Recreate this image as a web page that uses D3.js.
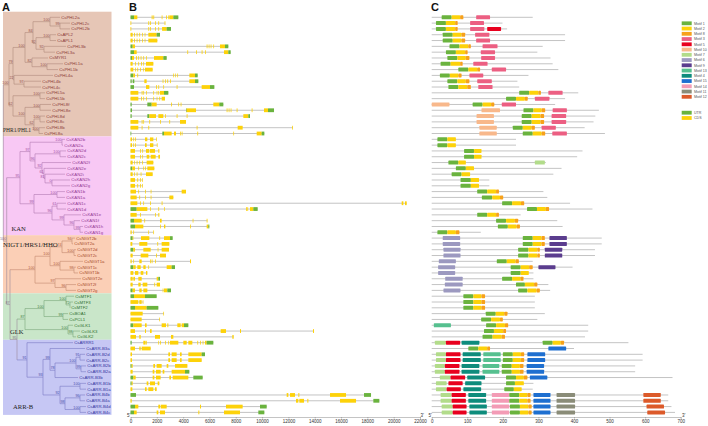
<!DOCTYPE html>
<html><head><meta charset="utf-8">
<script src="https://cdn.jsdelivr.net/npm/d3@7"></script>
<style>body{margin:0;background:#fff}svg{display:block}text{font-family:Arial,"Liberation Sans",sans-serif}</style>
</head><body><svg id="c" width="708" height="426"></svg>
<script>
// ---------- DATA ----------
const genes = ["CsPHL2a","CsPHL2c","CsPHL2b","CsAPL2","CsAPL1","CsPHL3b","CsPHL3a","CsMYR1","CsPHL1a","CsPHL1b","CsPHL4a","CsPHL4b","CsPHL4c","CsPHL5a","CsPHL5b","CsPHL8f","CsPHL8e","CsPHL8d","CsPHL8c","CsPHL8b","CsPHL8a",
"CsKAN2b","CsKAN2a","CsKAN2d","CsKAN2c","CsKAN2f","CsKAN2e","CsKAN2i","CsKAN2h","CsKAN2g","CsKAN1b","CsKAN1a","CsKAN1c","CsKAN1d","CsKAN1e","CsKAN1f","CsKAN1h","CsKAN1g",
"CsNIGT2b","CsNIGT2a","CsNIGT2d","CsNIGT2c","CsNIGT1a","CsNIGT1c","CsNIGT1b","CsNIGT2e","CsNIGT2f","CsNIGT2g",
"CsMTF1","CsMTF3","CsMTF2","CsBOA1","CsPCL1","CsGLK1","CsGLK3","CsGLK2",
"CsARRR1","CsARR-B3a","CsARR-B2d","CsARR-B2c","CsARR-B2b","CsARR-B2a","CsARR-B3b","CsARR-B1b","CsARR-B1a","CsARR-B4b","CsARR-B4a","CsARR-B4d","CsARR-B4c"];
const groupNames = ["PHR1/PHL1","KAN","NIGT1/HRS1/HHO","GLK","ARR-B"];
const groupSizes = [21,17,10,8,13];
const groupBg = ["#e6c6b6","#f8c8f4","#fbcfb6","#c9e6c9","#c6c7f4"];
const groupLine = ["#b08a7c","#b27ab2","#c48a70","#7aa87a","#7a7ac4"];
const groupText = ["#8b3a3a","#953a95","#a8482a","#2e6e2e","#3535a0"];

const newickPHR = "(((((CsPHL2a:10,(CsPHL2c:10,CsPHL2b:10)99:10)100:17,((CsAPL2:6,CsAPL1:6)100:14,(CsPHL3b:22,CsPHL3a:11)92:8)92:3)84:8,(CsMYR1:16,(CsPHL1a:16,CsPHL1b:11)100:15)82:7)100:12,(CsPHL4a:39,(CsPHL4b:17,CsPHL4c:17)97:10)22:1)79:4,((CsPHL5a:5,CsPHL5b:5)100:27,((CsPHL8f:11,CsPHL8e:11)100:15,((CsPHL8d:5,CsPHL8c:5)100:6,(CsPHL8b:6,CsPHL8a:4)100:5)62:9)100:12)62:4)100:5.7";
const newickKAN = "(((CsKAN2b:3,CsKAN2a:1)100:32,((CsKAN2d:6,CsKAN2c:6)100:25,(CsKAN2f:29,(CsKAN2e:22,(CsKAN2i:20,(CsKAN2h:18,CsKAN2g:18)0:7)81:1)61:2)92:7)96:5)97:10,((CsKAN1b:8,CsKAN1a:8)100:23,((CsKAN1c:9,CsKAN1d:9)61:5,(CsKAN1e:17,(CsKAN1f:6,(CsKAN1h:3,CsKAN1g:3)99:6)96:10)99:12)96:18)99:14)95:13.3";
const newickNIGT = "((((CsNIGT2b:3,CsNIGT2a:1)94:10,(CsNIGT2d:2,CsNIGT2c:2)100:12)74:12,(CsNIGT1a:23,(CsNIGT1c:2,CsNIGT1b:4)98:14)100:10)100:15,(CsNIGT2e:26,(CsNIGT2f:10,CsNIGT2g:10)96:11)97:20)100:25";
const newickGLK = "(((CsMTF1:8,(CsMTF3:3,CsMTF2:0)72:4)100:22,(CsBOA1:5,CsPCL1:5)99:19)100:19,(CsGLK1:5,(CsGLK3:7,CsGLK2:3)98:5)100:43)87:8";
const newickARR = "(CsARRR1:46,((CsARR-B3a:35,(((CsARR-B2d:5,CsARR-B2c:5)91:4,(CsARR-B2b:5,CsARR-B2a:5)99:5)100:21,CsARR-B3b:23)78:5)99:7,((CsARR-B1b:6,CsARR-B1a:6)100:20,((CsARR-B4b:5,CsARR-B4a:5)96:15,(CsARR-B4d:6,CsARR-B4c:6)100:15)98:5)92:17)93:16)91:10";
const newick = "(" + newickPHR + ",(" + newickKAN + ",(" + newickNIGT + ",(" + newickGLK + "," + newickARR + ")95:7)87:3.3)100:3.4);";

// gene structures: [start, end, type] U = UTR, C = CDS (bp)
const geneStruct = [
[[0,270,'U'],[270,520,'C'],[1608,1680,'C'],[1735,1800,'C'],[2368,2430,'C'],[2698,2760,'C'],[2875,2940,'C'],[2951,3255,'C'],[3255,3635,'U']],
[[0,60,'C'],[1355,1420,'C'],[1482,1540,'C'],[1862,1920,'C'],[2115,2175,'C'],[2590,2650,'C']],
[[0,60,'C'],[1355,1420,'C'],[1482,1540,'C'],[1862,1920,'C'],[2115,2175,'C'],[2400,2750,'C'],[2750,3078,'U']],
[[0,165,'C'],[266,330,'C'],[469,530,'C'],[671,730,'C'],[874,930,'C'],[1076,1130,'C'],[1355,1988,'C'],[1988,2242,'U']],
[[0,165,'C'],[266,330,'C'],[469,530,'C'],[671,730,'C'],[874,930,'C'],[1076,1130,'C'],[1355,2039,'C']],
[[0,165,'U'],[165,342,'C'],[5788,5850,'C'],[5940,6000,'C'],[6092,6150,'C'],[6295,6350,'C'],[6801,7181,'C'],[7181,7435,'U']],
[[0,266,'U'],[266,469,'C'],[4320,4380,'C'],[4978,5040,'C'],[5408,5470,'C'],[5661,5720,'C'],[7105,7435,'C'],[7435,7612,'U']],
[[0,114,'U'],[114,266,'C'],[418,480,'C'],[595,650,'C'],[773,830,'C'],[975,1030,'C'],[1178,1230,'C'],[1786,2495,'C'],[2495,2749,'U']],
[[0,165,'C'],[342,400,'C'],[595,650,'C'],[798,860,'C'],[975,1030,'C'],[1178,1735,'C']],
[[0,215,'C'],[342,400,'C'],[519,580,'C'],[722,780,'C'],[975,1030,'C'],[1102,1684,'C']],
[[0,215,'U'],[215,342,'C'],[519,580,'C'],[3255,3310,'C'],[3407,3460,'C'],[3559,3610,'C'],[4471,4902,'C'],[4902,5105,'U']],
[[0,89,'U'],[165,290,'U'],[1051,1228,'C'],[2444,2500,'C'],[2622,2680,'C'],[2799,2860,'C'],[3002,3060,'C'],[4471,4902,'C'],[4902,5155,'U']],
[[0,266,'U'],[1178,1431,'C'],[1938,2000,'C'],[2115,2175,'C'],[2495,2550,'C'],[3508,3570,'C'],[5408,6041,'C'],[6041,6371,'U']],
[[0,595,'C'],[849,910,'C'],[975,1030,'C'],[1178,1230,'C'],[1735,1790,'C'],[1988,2040,'C'],[2115,2175,'C'],[2242,2546,'C'],[2546,2875,'U']],
[[0,595,'C'],[798,860,'C'],[975,1030,'C'],[1178,1230,'C'],[1735,1790,'C'],[1988,2040,'C'],[2191,2250,'C'],[2368,2622,'C']],
[[0,89,'U'],[1279,1608,'U'],[1608,1988,'C'],[3078,3140,'C'],[3635,3690,'C'],[3812,3870,'C'],[6295,6751,'C'],[6751,7055,'U']],
[[0,114,'U'],[4218,4269,'U'],[4269,4978,'C'],[7308,7370,'C'],[7460,7520,'C'],[7612,7670,'C'],[8068,8130,'C'],[9208,9270,'C'],[10146,10450,'C'],[10450,10906,'U']],
[[0,89,'U'],[1279,1431,'U'],[1431,1938,'C'],[2115,2495,'C'],[2622,2680,'C'],[3508,3570,'C'],[4269,4330,'C'],[8575,8955,'C'],[8955,9081,'U']],
[[0,595,'C'],[849,910,'C'],[975,1030,'C'],[1431,1490,'C'],[2242,2300,'C'],[2951,3010,'C'],[3762,4218,'C']],
[[0,595,'C'],[849,910,'C'],[1355,1420,'C'],[5029,5090,'C'],[8144,8524,'C'],[12290,12350,'C']],
[[0,60,'U'],[2419,2546,'U'],[2546,3128,'C'],[3306,3458,'C'],[3762,3820,'C'],[3888,3950,'C'],[5079,5140,'C'],[7815,7870,'C'],[9589,9969,'C'],[9969,10171,'U']],
[[0,114,'C'],[215,270,'C'],[342,400,'C'],[1102,1279,'C'],[1482,1735,'C'],[1950,1988,'C']],
[[0,114,'C'],[215,270,'C'],[342,400,'C'],[1102,1228,'C'],[1482,1735,'C'],[2000,2039,'C']],
[[0,342,'C'],[722,780,'C'],[899,950,'C'],[1178,1431,'C'],[1482,1862,'C'],[2115,2191,'C']],
[[0,342,'C'],[722,780,'C'],[899,950,'C'],[1228,1431,'C'],[1533,1912,'C'],[2115,2242,'C']],
[[0,165,'C'],[266,320,'C'],[469,530,'C'],[671,730,'C'],[874,930,'C'],[1228,1735,'C']],
[[0,139,'U'],[139,342,'C'],[595,650,'C'],[975,1030,'C'],[1102,1160,'C'],[1279,1811,'C']],
[[0,165,'C'],[266,320,'C'],[469,530,'C'],[773,830,'C'],[1178,1684,'C']],
[[0,342,'C'],[519,580,'C'],[722,780,'C'],[874,925,'C']],
[[0,342,'C'],[519,580,'C'],[722,780,'C'],[874,925,'C']],
[[0,418,'C'],[595,650,'C'],[1102,1160,'C'],[1533,1590,'C'],[3888,4218,'C']],
[[0,469,'C'],[671,730,'C'],[1102,1160,'C'],[1533,1590,'C'],[2951,3255,'C']],
[[0,519,'C'],[722,780,'C'],[975,1030,'C'],[1482,1540,'C'],[2368,2430,'C'],[20608,20735,'C'],[20862,20989,'C']],
[[0,469,'U'],[469,1279,'C'],[1482,1540,'C'],[2115,2175,'C'],[2546,2600,'C'],[8778,8840,'C'],[8879,8940,'C'],[9081,9335,'C'],[9335,9664,'U']],
[[0,469,'C'],[722,780,'C'],[1862,1920,'C'],[2115,2191,'C']],
[[0,266,'U'],[266,849,'C'],[1051,1110,'C'],[2242,2368,'C'],[4725,4780,'C'],[5788,5850,'C']],
[[0,342,'U'],[342,975,'C'],[2242,2300,'C'],[2546,2647,'C'],[4522,4580,'C'],[5788,5915,'C'],[5915,5991,'U']],
[[0,89,'C'],[215,270,'C'],[1355,1410,'C'],[1735,1760,'C']],
[[0,165,'U'],[165,215,'C'],[798,1431,'C'],[2191,2250,'C'],[2546,3002,'C'],[3002,3204,'U']],
[[0,139,'C'],[671,1279,'C'],[2039,2100,'C'],[2368,2951,'C']],
[[0,215,'U'],[215,342,'C'],[975,1533,'C'],[2064,2120,'C'],[2368,2926,'C']],
[[0,165,'C'],[773,1355,'C'],[1938,2000,'C'],[2242,2698,'C']],
[[0,89,'C'],[215,270,'C'],[671,849,'C'],[1482,1540,'C'],[1608,1670,'C'],[1862,1920,'C'],[4522,4598,'C']],
[[0,215,'U'],[215,393,'C'],[519,773,'C'],[975,1152,'C'],[1355,1410,'C'],[2749,3128,'C'],[3128,3382,'U']],
[[0,215,'C'],[342,595,'C'],[773,975,'C'],[1178,1279,'C']],
[[0,165,'C'],[215,342,'C'],[595,849,'C'],[1988,2115,'C'],[2115,2242,'U']],
[[0,165,'C'],[595,773,'C'],[925,1279,'C'],[1811,1870,'C'],[1988,2242,'C']],
[[0,165,'U'],[165,342,'C'],[671,849,'C'],[975,1279,'C'],[2444,2500,'C'],[2546,2799,'C'],[2799,3078,'U']],
[[0,266,'U'],[266,1102,'C'],[1102,1988,'U']],
[[0,595,'C'],[671,849,'C'],[925,975,'C']],
[[0,342,'U'],[342,1228,'C'],[1228,2115,'U']],
[[0,925,'C'],[2495,2546,'C']],
[[0,849,'C'],[2191,2242,'C']],
[[0,215,'U'],[215,849,'C'],[1102,1228,'C'],[2368,2698,'C'],[2799,2875,'C'],[3559,3812,'C'],[3888,4066,'C'],[4066,4395,'U']],
[[0,342,'C'],[1102,1178,'C'],[1482,1608,'C'],[6852,7257,'C'],[8321,8397,'C'],[13870,13946,'C']],
[[0,418,'C'],[671,773,'C'],[1862,2242,'C'],[3078,3255,'C'],[7739,7840,'C']],
[[0,89,'U'],[975,1152,'C'],[1178,1230,'C'],[2115,2170,'C'],[2242,2300,'C'],[2622,2680,'C'],[2875,2930,'C'],[3002,3635,'C'],[4015,4269,'C'],[4395,4699,'C'],[5079,5140,'C'],[5282,5340,'C'],[5484,5540,'C'],[5661,5788,'C'],[5788,6295,'U']],
[[0,342,'C'],[671,773,'C'],[849,1533,'C']],
[[0,114,'C'],[2875,3002,'C'],[3128,3508,'C'],[3762,3888,'C'],[4395,5408,'C'],[5408,5661,'U']],
[[0,114,'C'],[2875,3002,'C'],[3128,3508,'C'],[3762,3888,'C'],[4395,5408,'C']],
[[0,89,'U'],[89,165,'C'],[1735,1862,'C'],[1988,2368,'C'],[2749,2875,'C'],[3382,4320,'C']],
[[0,165,'C'],[1684,1811,'C'],[1938,2292,'C'],[2444,2571,'C'],[3128,4142,'C'],[4142,4471,'U']],
[[0,215,'U'],[215,393,'C'],[1684,1811,'C'],[1938,2292,'C'],[2951,3078,'C'],[3204,4395,'C'],[4775,5484,'U']],
[[0,89,'U'],[89,165,'C'],[1228,1355,'C'],[1482,1862,'C'],[2064,2191,'C']],
[[0,139,'C'],[1102,1228,'C'],[1355,1735,'C'],[1862,1988,'C']],
[[0,418,'U'],[11868,11995,'C'],[12122,12502,'C'],[12755,12831,'C'],[15162,16378,'C'],[17746,18278,'U']],
[[0,89,'C'],[12578,12755,'C'],[12831,13186,'C'],[13439,13515,'C'],[15922,17138,'C'],[18455,18911,'U']],
[[0,342,'U'],[342,595,'C'],[2115,2242,'C'],[2292,2749,'C'],[5282,5358,'C'],[7257,8524,'C'],[9842,10349,'U']],
[[0,266,'U'],[266,469,'C'],[1988,2115,'C'],[2242,2622,'C'],[5155,5231,'C'],[7105,8321,'C'],[9715,10171,'U']]
];

// protein lengths (aa) and motifs [motif, start, end]
const protLen = [284,199,212,375,375,312,297,334,340,356,272,241,246,412,375,347,470,460,455,430,487,
237,237,424,409,321,365,342,162,162,314,325,389,452,250,353,368,138,
478,478,459,459,284,396,286,286,328,333,
290,290,290,318,297,440,440,431,
553,400,593,593,572,572,677,286,284,665,665,674,684];
const motifs = [
[[1,28,56],[2,56,80],[8,80,89],[3,125,164]],
[[1,12,40],[2,40,66],[8,66,73],[3,108,147]],
[[1,12,40],[2,40,66],[8,66,73],[3,108,148],[5,156,195]],
[[1,31,59],[2,59,84],[8,84,94],[3,122,162]],
[[1,31,59],[2,59,84],[8,84,94],[3,125,164]],
[[1,50,78],[2,78,103],[8,103,110],[3,143,185]],
[[1,40,68],[2,68,94],[8,94,101],[3,138,178]],
[[1,44,72],[2,72,96],[8,96,106],[3,139,178]],
[[1,25,53],[2,53,80],[8,80,87],[3,117,157]],
[[1,75,103],[2,103,128],[8,128,136],[3,169,209]],
[[1,23,51],[2,51,75],[8,75,84],[3,106,145]],
[[1,44,72],[2,72,96],[8,96,106],[3,128,169]],
[[1,47,75],[2,75,100],[8,100,110],[3,131,171]],
[[1,246,274],[2,274,300],[8,300,307],[3,328,368]],
[[1,209,237],[2,237,262],[8,262,270],[3,290,331]],
[[10,0,50],[1,115,143],[2,143,167],[8,167,176],[3,197,237]],
[[10,140,192],[1,258,286],[2,286,309],[8,309,319],[3,340,380]],
[[10,126,175],[1,253,281],[2,281,306],[8,306,316],[3,337,378]],
[[10,126,175],[1,253,281],[2,281,306],[8,306,316],[3,337,378]],
[[10,134,183],[1,228,256],[2,256,281],[8,281,290],[3,309,349]],
[[10,134,183],[1,256,284],[2,284,309],[8,309,319],[3,339,380]],
[[1,16,44],[2,44,68]],
[[1,16,44],[2,44,68]],
[[1,91,119],[2,119,140]],
[[1,91,119],[2,119,140]],
[[1,47,75],[2,75,96],[7,290,318]],
[[1,68,96],[2,96,119]],
[[1,56,84],[2,84,108]],
[[1,81,110],[2,110,133]],
[[1,81,110],[2,110,133]],
[[1,128,156],[2,156,181],[8,181,189]],
[[1,141,170],[2,170,192],[8,192,201]],
[[1,198,226],[2,226,251],[8,251,260]],
[[1,268,296],[2,296,321],[8,321,330]],
[[1,128,156],[2,156,181],[8,181,189]],
[[1,181,209],[2,209,234],[8,234,243]],
[[1,186,214],[2,214,239],[8,239,248]],
[[1,16,44],[2,44,68],[8,68,78]],
[[6,31,80],[1,256,284],[2,284,309],[8,309,318],[9,331,380]],
[[6,31,80],[1,256,284],[2,284,309],[8,309,318],[9,331,380]],
[[6,33,81],[1,243,272],[2,272,297],[8,297,304],[9,318,367]],
[[6,33,81],[1,243,272],[2,272,297],[8,297,304],[9,318,367]],
[[6,20,68],[1,183,211],[2,211,236],[8,236,245]],
[[6,18,66],[1,222,250],[2,250,274],[8,274,284],[9,300,348]],
[[6,18,66],[1,222,250],[2,250,273]],
[[6,38,87],[1,198,226],[2,226,250],[8,250,258]],
[[6,37,87],[1,237,262],[2,262,288],[8,288,297]],
[[6,33,81],[1,243,269],[2,269,295],[8,295,304]],
[[1,89,117],[2,117,140],[8,140,150]],
[[1,89,117],[2,117,140],[8,140,150]],
[[1,89,117],[2,117,140],[8,140,150]],
[[1,152,180],[2,180,204],[8,204,213]],
[[1,139,167],[2,167,192],[8,192,200]],
[[13,6,54],[1,153,181],[2,181,206],[8,206,215]],
[[1,147,175],[2,175,201],[8,201,209]],
[[1,143,171],[2,171,197],[8,197,206]],
[[7,9,40],[5,40,80],[4,84,134],[1,312,340],[2,340,363],[8,363,372]],
[[1,103,131],[2,131,156],[8,156,164],[15,328,378]],
[[7,12,40],[5,40,81],[4,87,138],[13,145,194],[1,200,228],[2,228,251],[8,251,260],[15,269,319]],
[[7,12,40],[5,40,81],[4,87,138],[13,145,194],[1,200,228],[2,228,251],[8,251,260],[15,269,319]],
[[7,9,37],[5,37,78],[4,84,134],[13,143,190],[1,197,225],[2,225,248],[8,248,258],[15,267,316]],
[[7,9,37],[5,37,78],[4,84,134],[13,143,190],[1,197,225],[2,225,248],[8,248,258],[15,267,316]],
[[7,23,53],[5,53,94],[4,100,150],[1,209,237],[2,237,259],[8,259,269],[15,276,325]],
[[7,12,42],[5,47,87],[4,94,140],[1,209,234],[2,234,259]],
[[7,12,42],[5,42,82],[4,89,139],[1,204,231],[2,231,253]],
[[7,25,56],[5,56,96],[4,103,153],[14,169,218],[1,218,246],[2,246,269],[8,269,278],[15,286,334],[11,351,403],[12,595,644]],
[[7,25,56],[5,56,96],[4,103,153],[14,169,218],[1,218,246],[2,246,269],[8,269,278],[15,286,334],[11,351,403],[12,595,644]],
[[7,28,59],[5,59,98],[4,106,155],[14,169,218],[1,220,248],[2,248,272],[8,272,281],[15,286,334],[11,351,403],[12,604,653]],
[[7,28,59],[5,59,98],[4,106,155],[14,169,218],[1,220,248],[2,248,272],[8,272,281],[15,286,334],[11,351,403],[12,606,656]]
];
const motifOrder = [1,2,8,3,5,10,7,6,9,13,4,15,14,11,12];
const motifColors = ["#6ab33e","#fdd20a","#f7a11a","#ec5f82","#e8001e","#f8b88b","#b2dc8a","#9c99c0","#5b3d8e","#56c08f","#0e8c7c","#1e6fd0","#f39bb5","#8a8c78","#dc5a2a"];
const structKeys = ["UTR","CDS"];
const structColors = ["#6ab33e","#fdd20a"];
const ticksB = d3.range(0, 22001, 2000);
const ticksC = d3.range(0, 701, 100);

// ---------- SCALES ----------
const svg = d3.select("#c");
const yRow = d3.scalePoint().domain(genes).range([17.3, 412.4]);
const xB = d3.scaleLinear().domain([0, 22000]).range([130.5, 420]);
const xC = d3.scaleLinear().domain([0, 700]).range([431.7, 680.7]);
const xT = d3.scaleLinear().domain([0, 90]).range([3.3, 93.3]);
const motifColor = d3.scaleOrdinal().domain(motifOrder).range(motifColors);
const structColor = d3.scaleOrdinal().domain(["U","C"]).range(structColors);
const step = yRow.step();

const geneGroup = {};
{ let k = 0; groupSizes.forEach((n, g) => { for (let i = 0; i < n; i++) geneGroup[genes[k++]] = g; }); }

// ---------- PANEL A ----------
let start = 0;
const gBg = svg.append("g");
groupSizes.forEach((n, g) => {
  const first = genes[start], last = genes[start + n - 1];
  const top = g === 0 ? yRow(first) - 5.6 : yRow(first) - step / 2;
  const bot = g === groupSizes.length - 1 ? yRow(last) + 2.5 : yRow(last) + step / 2;
  gBg.append("rect").attr("x", 3).attr("y", top).attr("width", 108.5).attr("height", bot - top).attr("fill", groupBg[g]);
  start += n;
});

function parseNewick(s) {
  let i = 0;
  function node() {
    const n = { children: [] };
    if (s[i] === "(") {
      i++; n.children.push(node());
      while (s[i] === ",") { i++; n.children.push(node()); }
      i++;
    }
    let name = "";
    while (i < s.length && !",():;".includes(s[i])) name += s[i++];
    n.name = name;
    if (s[i] === ":") { i++; let l = ""; while (i < s.length && !",();".includes(s[i])) l += s[i++]; n.length = +l; }
    else n.length = 0;
    return n;
  }
  return node();
}
const root = d3.hierarchy(parseNewick(newick), d => d.children.length ? d.children : null);
root.each(d => { d.dist = d.parent ? d.parent.dist + d.data.length : 0; });
root.eachAfter(d => {
  if (!d.children) { d.yy = yRow(d.data.name); d.grp = geneGroup[d.data.name]; }
  else {
    d.yy = (d.children[0].yy + d.children[d.children.length - 1].yy) / 2;
    const gs = new Set(d.children.map(c => c.grp));
    d.grp = gs.size === 1 && !gs.has(-1) ? d.children[0].grp : -1;
  }
});
const lineCol = d => d.grp >= 0 ? groupLine[d.grp] : "#9a8a9a";
const gTree = svg.append("g").attr("fill", "none").attr("stroke-width", 0.6);
root.descendants().forEach(d => {
  if (d.parent) {
    gTree.append("line").attr("x1", xT(d.parent.dist)).attr("x2", xT(d.dist)).attr("y1", d.yy).attr("y2", d.yy).attr("stroke", lineCol(d));
  }
  if (d.children) {
    gTree.append("line").attr("x1", xT(d.dist)).attr("x2", xT(d.dist))
      .attr("y1", d.children[0].yy).attr("y2", d.children[d.children.length - 1].yy).attr("stroke", lineCol(d));
  }
});
const gLab = svg.append("g");
root.leaves().forEach(d => {
  gLab.append("text").attr("x", xT(d.dist) + 1.2).attr("y", d.yy + 1.5).attr("font-size", 4.3)
    .attr("fill", groupText[d.grp]).text(d.data.name);
});
root.descendants().filter(d => d.children && d.data.name !== "").forEach(d => {
  gLab.append("text").attr("x", xT(d.dist) - 0.5).attr("y", d.yy - 0.8).attr("font-size", 3.7)
    .attr("text-anchor", "end").attr("fill", d.grp >= 0 ? groupText[d.grp] : "#7a5a7a").attr("opacity", 0.85).text(d.data.name);
});
// group labels
const grpLabelPos = [[3, 131.5, 5.5], [11.5, 231, 6.6], [3, 246.5, 6.8], [10, 334, 6.6], [13, 409, 6.6]];
groupNames.forEach((n, g) => {
  svg.append("text").attr("x", grpLabelPos[g][0]).attr("y", grpLabelPos[g][1]).attr("font-size", grpLabelPos[g][2])
    .style("font-family", "'Liberation Serif','Times New Roman',serif").attr("fill", "#222").text(n);
});

// ---------- PANEL B ----------
const gB = svg.append("g");
genes.forEach((gname, i) => {
  const y = yRow(gname), ex = geneStruct[i];
  const endBp = d3.max(ex, e => e[1]);
  gB.append("line").attr("x1", xB(0)).attr("x2", xB(endBp)).attr("y1", y).attr("y2", y).attr("stroke", "#b4b4b4").attr("stroke-width", 0.8);
  ex.forEach(e => {
    gB.append("rect").attr("x", xB(e[0])).attr("y", y - 1.9).attr("width", Math.max(0.7, xB(e[1]) - xB(e[0])))
      .attr("height", 3.8).attr("fill", structColor(e[2]));
  });
});
const axB = svg.append("g").attr("transform", "translate(0,417)")
  .call(d3.axisBottom(xB).tickValues(ticksB).tickSize(1.6).tickPadding(0.8).tickFormat(d3.format("d")));
axB.selectAll("text").attr("font-size", 4.5).attr("fill", "#333");
axB.selectAll("line,path").attr("stroke", "#888").attr("stroke-width", 0.5);
svg.append("text").attr("x", 127).attr("y", 417).attr("font-size", 4.5).attr("fill", "#333").text("5'");
svg.append("text").attr("x", 420.5).attr("y", 417).attr("font-size", 4.5).attr("fill", "#333").text("3'");

// ---------- PANEL C ----------
const gC = svg.append("g");
genes.forEach((gname, i) => {
  const y = yRow(gname);
  gC.append("line").attr("x1", xC(0)).attr("x2", xC(protLen[i])).attr("y1", y).attr("y2", y).attr("stroke", "#c4c4c4").attr("stroke-width", 1);
  motifs[i].forEach(m => {
    gC.append("rect").attr("x", xC(m[1])).attr("y", y - 2).attr("width", xC(m[2]) - xC(m[1])).attr("height", 4)
      .attr("rx", 0.6).attr("fill", motifColor(m[0]));
  });
});
const axC = svg.append("g").attr("transform", "translate(0,417)")
  .call(d3.axisBottom(xC).tickValues(ticksC).tickSize(1.6).tickPadding(0.8));
axC.selectAll("text").attr("font-size", 4.5).attr("fill", "#333");
axC.selectAll("line,path").attr("stroke", "#888").attr("stroke-width", 0.5);
svg.append("text").attr("x", 428.5).attr("y", 417).attr("font-size", 4.5).attr("fill", "#333").text("5'");
svg.append("text").attr("x", 682).attr("y", 417).attr("font-size", 4.5).attr("fill", "#333").text("3'");

// legend
const gL = svg.append("g");
motifOrder.forEach((m, k) => {
  const y = 21.4 + k * 5.25;
  gL.append("rect").attr("x", 681.7).attr("y", y).attr("width", 10).attr("height", 3.8).attr("fill", motifColor(m));
  gL.append("text").attr("x", 694).attr("y", y + 3.3).attr("font-size", 3.6).attr("fill", "#555").text("Motif " + m);
});
structKeys.forEach((s, k) => {
  const y = 110.8 + k * 5.3;
  gL.append("rect").attr("x", 681.7).attr("y", y).attr("width", 10).attr("height", 3.8).attr("fill", structColors[k]);
  gL.append("text").attr("x", 694).attr("y", y + 3.3).attr("font-size", 3.6).attr("fill", "#555").text(s);
});

// panel letters
[["A", 2, 11], ["B", 129, 11], ["C", 431, 11]].forEach(p => {
  svg.append("text").attr("x", p[1]).attr("y", p[2]).attr("font-size", 11).attr("font-weight", "bold").attr("fill", "#111").text(p[0]);
});
</script></body></html>
